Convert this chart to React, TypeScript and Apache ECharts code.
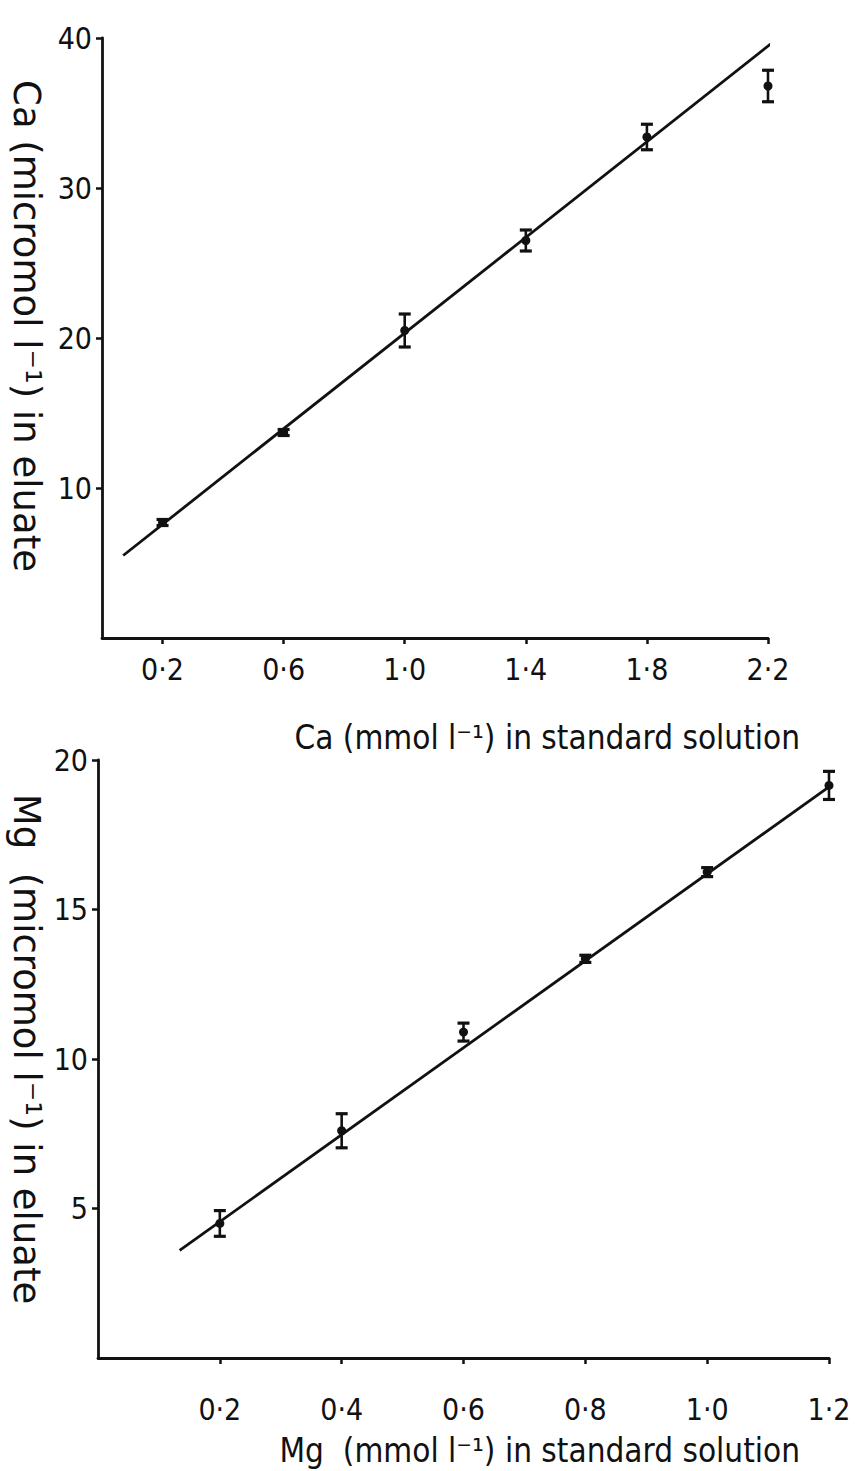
import { useEffect, useRef } from "react";
import * as echarts from "echarts";

// Calcium: standard concentration (mmol/l) vs. recovered in eluate (micromol/l)
const caConc = [0.2, 0.6, 1.0, 1.4, 1.8, 2.2];
const caEluate = [7.7, 13.7, 20.5, 26.5, 33.4, 36.8];
const caSpread = [0.2, 0.2, 1.1, 0.7, 0.85, 1.05];
const caFit = [
  [0.07, 5.5],
  [2.24, 40.1],
];
const caTicksX = [0.2, 0.6, 1.0, 1.4, 1.8, 2.2];
const caTicksY = [10, 20, 30, 40];

// Magnesium
const mgConc = [0.2, 0.4, 0.6, 0.8, 1.0, 1.2];
const mgEluate = [4.5, 7.6, 10.9, 13.35, 16.25, 19.15];
const mgSpread = [0.43, 0.57, 0.3, 0.12, 0.15, 0.47];
const mgFit = [
  [0.134, 3.6],
  [1.2, 19.1],
];
const mgTicksX = [0.2, 0.4, 0.6, 0.8, 1.0, 1.2];
const mgTicksY = [5, 10, 15, 20];

const INK = "#111";
const NARROW = "'Liberation Sans Narrow', 'DejaVu Sans Condensed', Roboto, sans-serif";
const WIDE = "'DejaVu Sans', 'Noto Sans', sans-serif";

const decimal = (v: number) => v.toFixed(1).replace(".", "·");

const errorBarItem = (_params: any, api: any) => {
  const x = api.value(0);
  const y = api.value(1);
  const e = api.value(2);
  const top = api.coord([x, y + e]);
  const bot = api.coord([x, y - e]);
  const mid = api.coord([x, y]);
  const hw = 6;
  const stroke = { stroke: INK, lineWidth: 2.6, fill: null };
  const cap = { stroke: INK, lineWidth: 3.2, fill: null };
  return {
    type: "group",
    children: [
      { type: "line", shape: { x1: top[0], y1: top[1], x2: bot[0], y2: bot[1] }, style: stroke },
      { type: "line", shape: { x1: top[0] - hw, y1: top[1], x2: top[0] + hw, y2: top[1] }, style: cap },
      { type: "line", shape: { x1: bot[0] - hw, y1: bot[1], x2: bot[0] + hw, y2: bot[1] }, style: cap },
      { type: "circle", shape: { cx: mid[0], cy: mid[1], r: 4.5 }, style: { fill: INK } },
    ],
  };
};

const xAxisFor = (gridIndex: number, max: number, ticks: number[], margin: number) => ({
  type: "value",
  gridIndex,
  min: 0,
  max,
  axisLine: { show: true, lineStyle: { color: INK, width: 2.8 } },
  axisTick: { show: true, customValues: ticks, length: 6, lineStyle: { color: INK, width: 2.5 } },
  axisLabel: {
    customValues: ticks,
    formatter: decimal,
    fontSize: 30,
    fontFamily: NARROW,
    color: INK,
    margin,
  },
  splitLine: { show: false },
});

const yAxisFor = (gridIndex: number, max: number, ticks: number[]) => ({
  type: "value",
  gridIndex,
  min: 0,
  max,
  axisLine: { show: true, lineStyle: { color: INK, width: 2.8 } },
  axisTick: { show: true, customValues: ticks, length: 6, lineStyle: { color: INK, width: 2.5 } },
  axisLabel: {
    customValues: ticks,
    fontSize: 30,
    fontFamily: NARROW,
    color: INK,
    margin: 10,
    verticalAlign: "middle",
    padding: [0, 0, 14, 0],
  },
  splitLine: { show: false },
});

const fitStyle = { color: INK, width: 2.8 };

export default function App() {
  const ref = useRef<HTMLDivElement>(null);

  useEffect(() => {
    if (!ref.current) return;
    const chart = echarts.init(ref.current, null, { renderer: "svg" });
    chart.setOption({
      animation: false,
      backgroundColor: "#fff",
      grid: [
        { left: 102, top: 38, width: 666, height: 600 },
        { left: 98, top: 760, width: 731, height: 598 },
      ],
      xAxis: [xAxisFor(0, 2.2, caTicksX, 16), xAxisFor(1, 1.2, mgTicksX, 36)],
      yAxis: [yAxisFor(0, 40, caTicksY), yAxisFor(1, 20, mgTicksY)],
      series: [
        {
          type: "line",
          xAxisIndex: 0,
          yAxisIndex: 0,
          data: caFit,
          showSymbol: false,
          clip: false,
          lineStyle: fitStyle,
        },
        {
          type: "custom",
          xAxisIndex: 0,
          yAxisIndex: 0,
          renderItem: errorBarItem,
          encode: { x: 0, y: 1 },
          data: caConc.map((c, i) => [c, caEluate[i], caSpread[i]]),
          clip: false,
        },
        {
          type: "line",
          xAxisIndex: 1,
          yAxisIndex: 1,
          data: mgFit,
          showSymbol: false,
          clip: false,
          lineStyle: fitStyle,
        },
        {
          type: "custom",
          xAxisIndex: 1,
          yAxisIndex: 1,
          renderItem: errorBarItem,
          encode: { x: 0, y: 1 },
          data: mgConc.map((c, i) => [c, mgEluate[i], mgSpread[i]]),
          clip: false,
        },
      ],
      graphic: [
        {
          type: "text",
          x: 800,
          y: 737,
          style: {
            text: "Ca (mmol l⁻¹) in standard solution",
            fontSize: 33,
            fontFamily: NARROW,
            fill: INK,
            align: "right",
            verticalAlign: "middle",
          },
        },
        {
          type: "text",
          x: 800,
          y: 1450,
          style: {
            text: "Mg  (mmol l⁻¹) in standard solution",
            fontSize: 33,
            fontFamily: NARROW,
            fill: INK,
            align: "right",
            verticalAlign: "middle",
          },
        },
        {
          type: "text",
          x: 26,
          y: 326,
          rotation: -Math.PI / 2,
          style: {
            text: "Ca (micromol l⁻¹) in eluate",
            fontSize: 37,
            fontFamily: WIDE,
            fill: INK,
            align: "center",
            verticalAlign: "middle",
          },
        },
        {
          type: "text",
          x: 26,
          y: 1049,
          rotation: -Math.PI / 2,
          style: {
            text: "Mg  (micromol l⁻¹) in eluate",
            fontSize: 37,
            fontFamily: WIDE,
            fill: INK,
            align: "center",
            verticalAlign: "middle",
          },
        },
      ],
    });
    return () => chart.dispose();
  }, []);

  return (
    <div
      ref={ref}
      style={{ position: "absolute", left: 0, top: 0, width: 855, height: 1471, background: "#fff" }}
    />
  );
}
